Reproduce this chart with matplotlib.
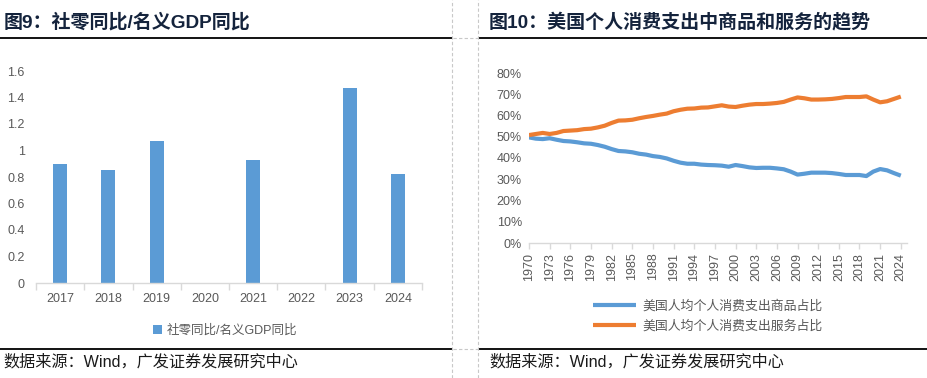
import matplotlib
matplotlib.use("Agg")
import matplotlib.pyplot as plt
import numpy as np

plt.rcParams['font.family'] = ['Liberation Sans', 'Noto Sans CJK SC', 'DejaVu Sans']

# left chart: retail sales growth / nominal GDP growth
years_bar = ['2017', '2018', '2019', '2020', '2021', '2022', '2023', '2024']
ratio = [0.90, 0.85, 1.07, np.nan, 0.93, np.nan, 1.47, 0.82]
bar_ticks = [0, 0.2, 0.4, 0.6, 0.8, 1.0, 1.2, 1.4, 1.6]
bar_tick_labels = ['0', '0.2', '0.4', '0.6', '0.8', '1', '1.2', '1.4', '1.6']

# right chart: US personal consumption, goods vs services share (%)
years_line = list(range(1970, 2025))
goods = [49.7, 49.1, 48.9, 49.3, 48.6, 48.0, 47.8, 47.4, 46.9, 46.7,
         46.1, 45.3, 44.2, 43.3, 43.1, 42.7, 42.0, 41.6, 40.9, 40.5,
         39.8, 38.7, 37.8, 37.3, 37.3, 36.9, 36.7, 36.6, 36.4, 35.9,
         36.7, 36.2, 35.6, 35.3, 35.4, 35.4, 35.1, 34.7, 33.6, 32.2,
         32.6, 33.1, 33.1, 33.1, 32.9, 32.5, 32.0, 32.0, 32.0, 31.5,
         33.6, 34.8, 34.2, 32.9, 31.7]
services = [50.8, 51.3, 51.8, 51.3, 51.8, 52.7, 52.9, 53.1, 53.6, 53.8,
            54.4, 55.2, 56.5, 57.6, 57.7, 58.0, 58.7, 59.3, 59.8, 60.4,
            60.9, 62.0, 62.7, 63.2, 63.3, 63.7, 63.8, 64.3, 64.8, 64.2,
            64.0, 64.6, 65.1, 65.4, 65.4, 65.6, 65.9, 66.4, 67.5, 68.5,
            68.1, 67.5, 67.5, 67.6, 67.8, 68.2, 68.7, 68.7, 68.7, 69.0,
            67.5, 66.2, 66.7, 67.8, 68.9]

W, H = 928, 378
fig = plt.figure(figsize=(W / 100, H / 100), dpi=100)

def fx(px):
  return px / W

def fy(py):
  return 1 - py / H

grey_txt = '#595959'
axis_col = '#d9d9d9'
title_col = '#14233c'

# frame lines
fig.add_artist(plt.Line2D([fx(0), fx(452)], [fy(38), fy(38)], color='black', lw=1.3))
fig.add_artist(plt.Line2D([fx(479), fx(928)], [fy(38), fy(38)], color='black', lw=1.3))
fig.add_artist(plt.Line2D([fx(0), fx(452)], [fy(349), fy(349)], color='black', lw=1.3))
fig.add_artist(plt.Line2D([fx(479), fx(928)], [fy(349), fy(349)], color='black', lw=1.3))
for x in (452.5, 478.5):
  fig.add_artist(plt.Line2D([fx(x), fx(x)], [0, 1], color='#c8c8c8', lw=0.8, ls=(0, (3, 2))))
for y in (38, 349):
  fig.add_artist(plt.Line2D([fx(453), fx(478)], [fy(y), fy(y)], color='#c8c8c8', lw=0.8, ls=(0, (3, 2))))

fig.text(fx(4), fy(22), '图9：社零同比/名义GDP同比', fontsize=13.7, fontweight='bold',
         color=title_col, va='center', ha='left')
fig.text(fx(489), fy(22), '图10：美国个人消费支出中商品和服务的趋势', fontsize=13.7, fontweight='bold',
         color=title_col, va='center', ha='left')
fig.text(fx(3), fy(362), '数据来源：Wind，广发证券发展研究中心', fontsize=11.6,
         color='#1a1a1a', va='center', ha='left')
fig.text(fx(489), fy(362), '数据来源：Wind，广发证券发展研究中心', fontsize=11.6,
         color='#1a1a1a', va='center', ha='left')

# ---- left bar chart
ax1 = fig.add_axes([fx(36), fy(283), fx(422) - fx(36), fy(71) - fy(283)])
xpos = np.arange(len(years_bar))
ax1.bar(xpos, ratio, width=0.29, color='#5b9bd5', label='社零同比/名义GDP同比')
ax1.set_xlim(-0.5, len(years_bar) - 0.5)
ax1.set_ylim(0, 1.6)
ax1.set_yticks(bar_ticks)
ax1.set_yticklabels(bar_tick_labels)
ax1.set_xticks(xpos)
ax1.set_xticklabels(years_bar)
ax1.set_xticks(np.arange(len(years_bar) + 1) - 0.5, minor=True)
ax1.tick_params(axis='x', which='major', length=0, pad=7, labelsize=9, labelcolor=grey_txt)
ax1.tick_params(axis='x', which='minor', length=5, color=axis_col, width=1)
ax1.tick_params(axis='y', length=0, pad=8, labelsize=9, labelcolor=grey_txt)
for s in ('top', 'right', 'left'):
  ax1.spines[s].set_visible(False)
ax1.spines['bottom'].set_color(axis_col)
ax1.spines['bottom'].set_linewidth(1)
ax1.legend(loc='center', bbox_to_anchor=(fx(225), fy(331)), bbox_transform=fig.transFigure,
           frameon=False, fontsize=9, labelcolor=grey_txt, handlelength=0.7, handleheight=0.7,
           handletextpad=0.4)

# ---- right line chart
ax2 = fig.add_axes([fx(529), fy(243), fx(907) - fx(529), fy(73) - fy(243)])
ax2.plot(years_line, goods, color='#5b9bd5', lw=3, label='美国人均个人消费支出商品占比',
         solid_capstyle='butt')
ax2.plot(years_line, services, color='#ed7d31', lw=3, label='美国人均个人消费支出服务占比',
         solid_capstyle='butt')
ax2.set_xlim(1970, 2024.9)
ax2.set_ylim(0, 80)
ax2.set_yticks(range(0, 81, 10))
ax2.set_yticklabels([f'{v}%' for v in range(0, 81, 10)])
ax2.set_xticks(years_line[::3])
ax2.set_xticklabels([str(y) for y in years_line[::3]], rotation=90)
ax2.tick_params(axis='x', length=4, color=axis_col, width=1, pad=3, labelsize=9, labelcolor=grey_txt)
ax2.tick_params(axis='y', length=0, pad=5, labelsize=9, labelcolor=grey_txt)
for s in ('top', 'right', 'left'):
  ax2.spines[s].set_visible(False)
ax2.spines['bottom'].set_color(axis_col)
ax2.spines['bottom'].set_linewidth(1)
ax2.legend(loc='center', bbox_to_anchor=(fx(708), fy(316)), bbox_transform=fig.transFigure,
           frameon=False, fontsize=9.3, labelcolor=grey_txt, handlelength=3.3,
           handletextpad=0.5, labelspacing=0.6)

fig.savefig('out.png', dpi=100)
